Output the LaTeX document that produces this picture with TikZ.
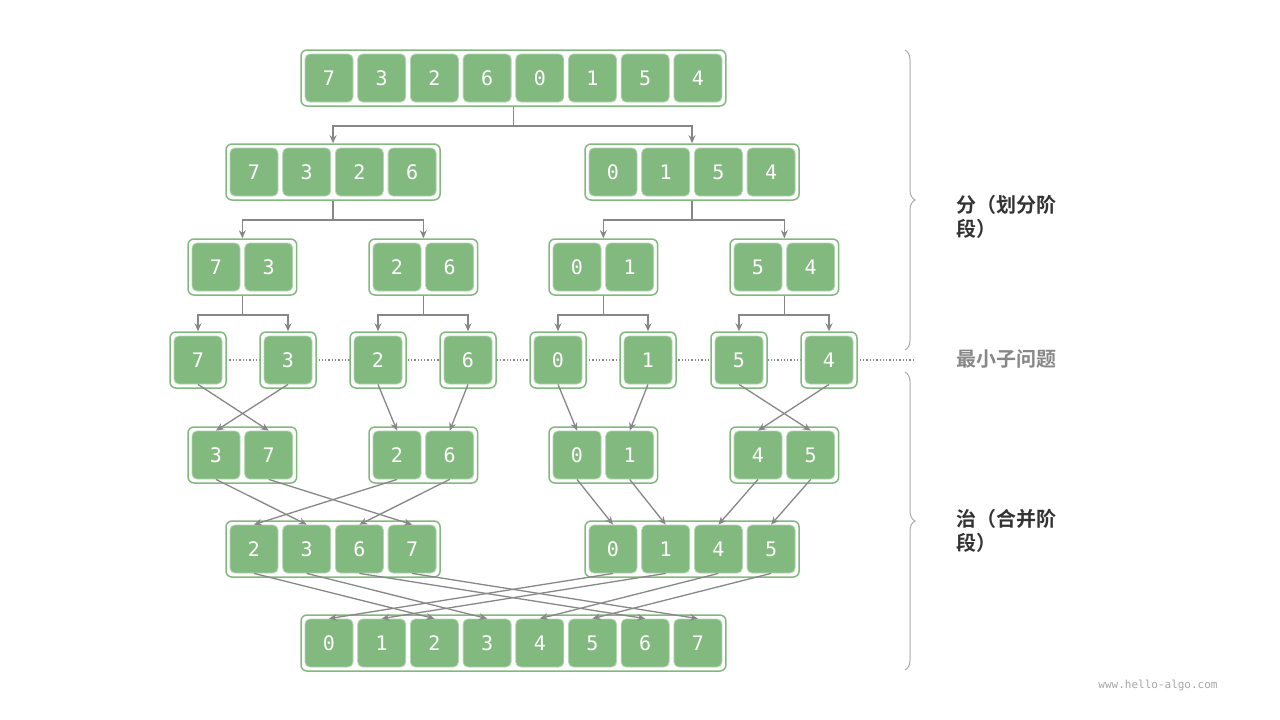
\documentclass[tikz,border=0pt]{standalone}
\usepackage{fontspec}
\newfontfamily\cjk{Noto Sans CJK SC}[BoldFont={Noto Sans CJK SC Bold}]
\newfontfamily\mono{DejaVu Sans Mono}
\usetikzlibrary{fit,decorations.pathreplacing,arrows.meta}
\definecolor{cellg}{HTML}{82B97F}
\definecolor{arrg}{HTML}{878787}
\begin{document}
\begin{tikzpicture}[x=1pt,y=-1pt,
  cell/.style={draw=cellg!60,line width=0.8pt,fill=cellg,rounded corners=5pt,minimum size=48pt,inner sep=0pt,text=white,font=\mono\fontsize{20}{20}\selectfont},
  grp/.style={draw=cellg,line width=1.5pt,fill=white,rounded corners=6pt,inner sep=4pt},
  line/.style={draw=arrg,line width=1.6pt},
  arr/.style={line,-{Stealth[length=8pt,width=7pt]}},
  lab/.style={font=\cjk\bfseries\fontsize{20}{24}\selectfont,anchor=west,align=left}]
\useasboundingbox (0,0) rectangle (1280,720);
\draw[arrg,dotted,line width=1.3pt] (170,360) -- (915,360);
\newcommand\grpdraw[4]{%
  \foreach \v [count=\i] in {#4} {\coordinate (#1p\i) at ({#2+(\i-1)*52.7},#3);}
  \foreach \v [count=\i] in {#4} {\path (#1p\i) ++(-24,-24) coordinate (#1a\i) ++(48,48) coordinate (#1b\i);}
  \node[grp,fit=(#1a1)(#1b1)(#1a\lastidx)(#1b\lastidx)] (#1) {};
  \foreach \v [count=\i] in {#4} {\node[cell] (#1c\i) at (#1p\i) {\v};}
}
\def\grpb#1#2#3#4#5{\def\lastidx{#5}\grpdraw{#1}{#2}{#3}{#4}}
\grpb{A}{329}{78}{7,3,2,6,0,1,5,4}{8}
\grpb{B}{254}{172}{7,3,2,6}{4}
\grpb{C}{613}{172}{0,1,5,4}{4}
\grpb{D}{216}{267}{7,3}{2}
\grpb{E}{397}{267}{2,6}{2}
\grpb{F}{577}{267}{0,1}{2}
\grpb{G}{758}{267}{5,4}{2}
\grpb{H}{198}{360}{7}{1}
\grpb{I}{288}{360}{3}{1}
\grpb{J}{378}{360}{2}{1}
\grpb{K}{468}{360}{6}{1}
\grpb{L}{558}{360}{0}{1}
\grpb{M}{648}{360}{1}{1}
\grpb{N}{739}{360}{5}{1}
\grpb{O}{829}{360}{4}{1}
\grpb{P}{216}{455}{3,7}{2}
\grpb{Q}{397}{455}{2,6}{2}
\grpb{R}{577}{455}{0,1}{2}
\grpb{S}{758}{455}{4,5}{2}
\grpb{T}{254}{549}{2,3,6,7}{4}
\grpb{U}{613}{549}{0,1,4,5}{4}
\grpb{V}{329}{643}{0,1,2,3,4,5,6,7}{8}
\foreach \p/\a/\b in {A/B/C,B/D/E,C/F/G,D/H/I,E/J/K,F/L/M,G/N/O}{
  \draw[line] (\p.south) -- ++(0,19) coordinate (m\p);
  \draw[arr] (m\p) -| (\a.north);
  \draw[arr] (m\p) -| (\b.north);
}
\foreach \s/\t in {Hc1/Pc2,Ic1/Pc1,Jc1/Qc1,Kc1/Qc2,Lc1/Rc1,Mc1/Rc2,Nc1/Sc2,Oc1/Sc1,
  Pc1/Tc2,Pc2/Tc4,Qc1/Tc1,Qc2/Tc3,Rc1/Uc1,Rc2/Uc2,Sc1/Uc3,Sc2/Uc4,
  Tc1/Vc3,Tc2/Vc4,Tc3/Vc7,Tc4/Vc8,Uc1/Vc1,Uc2/Vc2,Uc3/Vc5,Uc4/Vc6}{
  \draw[arr,line width=1.3pt] (\s.south) -- (\t.north);
}
\draw[arrg!70,line width=1pt,decorate,decoration={brace,amplitude=10pt}] (905,50) -- (905,350);
\draw[arrg!70,line width=1pt,decorate,decoration={brace,amplitude=10pt}] (905,372) -- (905,670);
\node[lab,text=black!80] (l1) at (953,217) {分（划分阶\\段）};
\node[lab,text=arrg] (l2) at (953,359) {最小子问题};
\node[lab,text=black!80] (l3) at (953,531) {治（合并阶\\段）};
\node[text=black!35,font=\mono\fontsize{11}{11}\selectfont] (w) at (1158,685) {www.hello-algo.com};
\end{tikzpicture}
\end{document}
